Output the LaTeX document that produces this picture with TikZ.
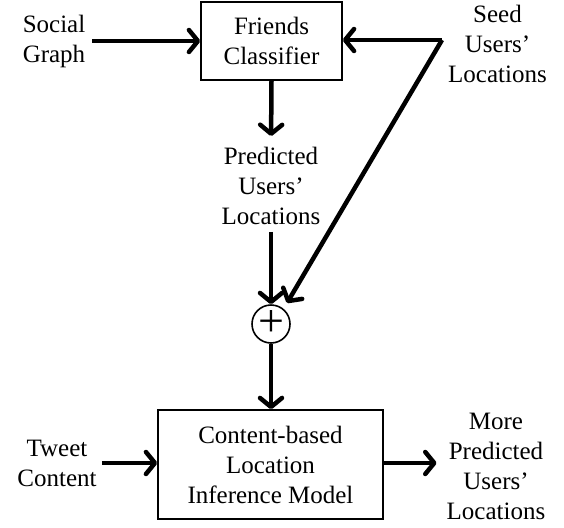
\documentclass[tikz,border=0pt]{standalone}
\usepackage{fontspec}
\setmainfont{Liberation Serif}
\usetikzlibrary{arrows.meta}
\begin{document}
\begin{tikzpicture}[x=1pt,y=-1pt,
  every node/.style={font=\fontsize{25}{30}\selectfont, align=center, inner sep=0pt},
  block/.style={draw, line width=1.6pt, minimum width=#1},
  sumnode/.style={draw, circle, line width=1.6pt, minimum size=38pt,
    font=\fontsize{46}{46}\selectfont},
  flow/.style={line width=4.5pt,
    -{Straight Barb[length=9pt,width=22pt,line width=4.5pt,round]}}]
\useasboundingbox (0,0) rectangle (564,527);

% upper stage: friends classifier and its inputs
\node[block=141pt, minimum height=78pt] (fc) at (271.5,41) {Friends\\Classifier};
\node (social) at (54,41.5) {Social\\Graph};
\node (seed) at (497.5,44) {Seed\\Users'\\Locations};
\coordinate (corner) at (442,40);

\node (pred) at (271,186) {Predicted\\Users'\\Locations};
\node[sumnode] (sum) at (271,324) {+};
\coordinate (sumin) at (287,303);

% lower stage: content-based model
\node[block=225pt, minimum height=109pt] (cb) at (270.5,464.5)
  {Content-based\\Location\\Inference Model};
\node (tweet) at (57,463) {Tweet\\Content};
\node (more) at (496,466) {More\\Predicted\\Users'\\Locations};

% connectors
\draw[flow, shorten <=7pt] (social.east |- fc.west) -- (fc.west);
\draw[flow] (corner) -- (corner -| fc.east);
\draw[flow] (corner) -- (sumin);
\draw[flow, shorten >=11pt] (fc.south) -- (pred.north);
\draw[flow, shorten <=7pt] (pred.south) -- (sum.north);
\draw[flow] (sum.south) -- (cb.north -| sum.south);
\draw[flow, shorten <=5pt] (tweet.east) -- (tweet.east -| cb.west);
\draw[flow, shorten >=10pt] (cb.east |- tweet.east) -- (more.west |- tweet.east);
\end{tikzpicture}
\end{document}
